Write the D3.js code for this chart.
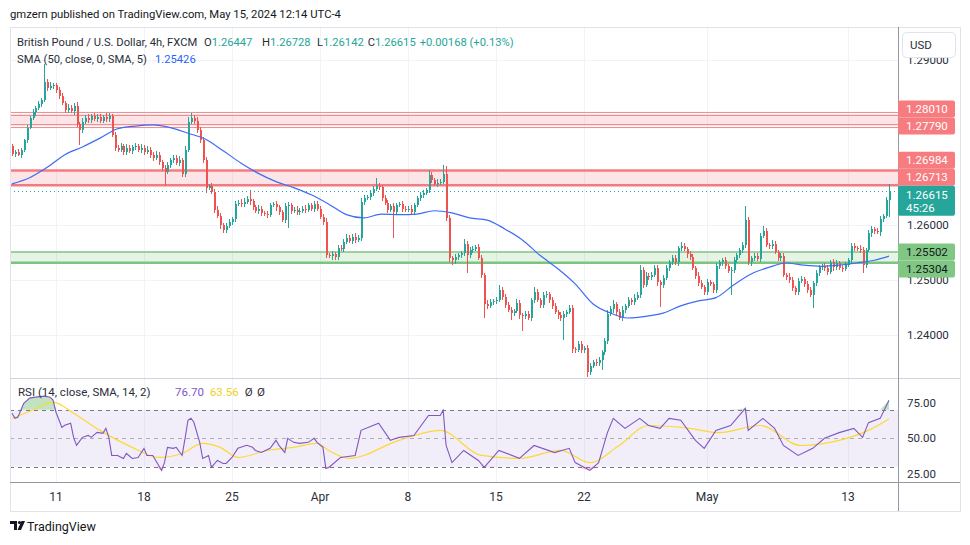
<!DOCTYPE html>
<html>
<head>
<meta charset="utf-8">
<script src="https://cdn.jsdelivr.net/npm/d3@7"></script>
<style>
  body { margin: 0; background: #fff; }
  svg { font-family: Roboto, "Liberation Sans", sans-serif; }
</style>
</head>
<body>
<svg id="chart" width="970" height="545"></svg>
<script>
// ---- data (GBPUSD 4h, FXCM) ----
const firstOpen = 1.2743;
const closes = [
  1.2728,1.2732,1.2727,1.2736,1.2753,1.2776,1.2794,1.2804,1.2812,1.2819,
  1.2826,1.2859,1.2849,1.2851,1.2853,1.2845,1.2834,1.2821,1.2808,1.2812,
  1.2806,1.2815,1.2783,1.2772,1.2787,1.2794,1.2790,1.2797,1.2792,1.2796,
  1.2789,1.2796,1.2792,1.2797,1.2763,1.2740,1.2736,1.2742,1.2732,1.2740,
  1.2734,1.2741,1.2742,1.2736,1.2740,1.2732,1.2736,1.2727,1.2721,1.2727,
  1.2714,1.2703,1.2695,1.2708,1.2717,1.2721,1.2712,1.2717,1.2691,1.2736,
  1.2787,1.2794,1.2789,1.2772,1.2753,1.2717,1.2667,1.2670,1.2659,1.2627,
  1.2616,1.2599,1.2590,1.2597,1.2605,1.2610,1.2637,1.2639,1.2637,1.2641,
  1.2646,1.2642,1.2631,1.2625,1.2629,1.2621,1.2619,1.2618,1.2635,1.2637,
  1.2631,1.2623,1.2608,1.2633,1.2635,1.2625,1.2627,1.2623,1.2625,1.2629,
  1.2627,1.2635,1.2629,1.2637,1.2629,1.2614,1.2605,1.2544,1.2543,1.2546,
  1.2541,1.2557,1.2556,1.2569,1.2576,1.2570,1.2578,1.2572,1.2576,1.2641,
  1.2648,1.2650,1.2657,1.2665,1.2670,1.2668,1.2648,1.2639,1.2627,1.2633,
  1.2623,1.2635,1.2637,1.2629,1.2627,1.2629,1.2623,1.2635,1.2648,1.2654,
  1.2657,1.2663,1.2690,1.2681,1.2674,1.2676,1.2678,1.2691,1.2612,1.2539,
  1.2535,1.2541,1.2544,1.2548,1.2565,1.2544,1.2554,1.2556,1.2559,1.2539,
  1.2508,1.2456,1.2452,1.2459,1.2461,1.2463,1.2481,1.2469,1.2454,1.2445,
  1.2439,1.2443,1.2458,1.2435,1.2433,1.2437,1.2430,1.2463,1.2477,1.2463,
  1.2454,1.2471,1.2474,1.2463,1.2452,1.2441,1.2435,1.2430,1.2437,1.2441,
  1.2448,1.2373,1.2372,1.2383,1.2372,1.2375,1.2332,1.2343,1.2350,1.2348,
  1.2354,1.2368,1.2388,1.2437,1.2446,1.2456,1.2441,1.2430,1.2445,1.2452,
  1.2463,1.2459,1.2467,1.2472,1.2518,1.2490,1.2507,1.2505,1.2508,1.2521,
  1.2495,1.2490,1.2503,1.2521,1.2531,1.2539,1.2531,1.2557,1.2561,1.2556,
  1.2546,1.2541,1.2521,1.2507,1.2494,1.2486,1.2477,1.2495,1.2492,1.2481,
  1.2524,1.2531,1.2535,1.2524,1.2516,1.2518,1.2535,1.2544,1.2554,1.2563,
  1.2608,1.2531,1.2539,1.2543,1.2537,1.2580,1.2588,1.2563,1.2561,1.2565,
  1.2550,1.2539,1.2543,1.2508,1.2505,1.2499,1.2484,1.2477,1.2497,1.2501,
  1.2492,1.2481,1.2472,1.2494,1.2512,1.2522,1.2524,1.2521,1.2514,1.2531,
  1.2522,1.2530,1.2521,1.2520,1.2526,1.2535,1.2561,1.2557,1.2556,1.2554,
  1.2526,1.2554,1.2584,1.2592,1.2588,1.2586,1.2610,1.2615,1.26447,1.26615
];
// wick lengths beyond the body, in pips
const wickUp = [
  4,3,5,4,3,5,4,6,3,5, 4,33,6,8,5,4,5,6,4,7, 5,6,8,4,6,5,7,4,6,5,
  5,4,6,5,4,6,5,7,4,6, 5,4,6,5,7,4,6,5,4,6, 5,4,6,5,4,6,5,7,4,6,
  9,8,5,6,5,6,5,4,6,5, 6,5,4,6,5,4,6,5,7,8, 6,17,5,4,6,5,4,6,5,4,
  6,5,4,7,6,5,4,6,5,4, 6,5,4,6,5,4,5,6,4,5, 4,6,5,4,6,5,4,6,5,8,
  5,4,6,5,15,5,4,6,5,4, 6,5,4,6,5,4,6,5,4,6, 5,4,9,5,4,6,5,17,15,5,
  4,6,5,4,8,5,6,5,4,6, 5,4,6,5,4,6,9,5,4,6, 5,4,6,5,4,6,5,4,10,5,
  4,6,5,4,6,5,4,6,5,4, 6,5,4,6,5,4,6,5,4,6, 5,4,6,8,5,6,4,5,6,4,
  5,4,6,5,9,5,6,4,5,6, 5,4,6,5,4,6,5,4,7,5, 4,6,5,4,6,5,4,6,5,4,
  6,5,4,6,5,4,6,5,4,6, 26,5,4,6,5,4,9,5,4,6, 5,4,6,5,4,6,5,4,6,5,
  4,6,5,4,6,5,4,6,5,4, 6,5,4,6,5,4,6,5,4,6, 5,4,6,5,4,6,5,4,6,11.3
];
const wickDown = [
  4,5,3,6,4,5,3,4,6,4, 5,4,6,5,4,6,5,4,6,5, 4,6,5,28,5,4,6,5,4,6,
  5,4,6,5,4,6,5,4,6,5, 4,6,5,4,6,5,4,6,5,4, 6,5,25,4,6,5,4,6,5,4,
  5,4,6,5,4,6,9,5,4,6, 5,8,6,5,4,6,5,4,6,5, 4,6,5,4,6,5,4,6,5,4,
  6,5,4,6,39,5,4,6,5,4, 6,5,4,6,5,4,6,5,4,7, 6,5,4,6,5,4,6,5,4,6,
  5,4,6,5,4,6,5,4,6,5, 48,5,4,6,5,4,6,5,4,6, 5,4,6,5,4,6,5,4,6,8,
  9,6,5,4,6,33,4,6,5,4, 6,26,5,4,6,5,4,6,5,4, 12,5,4,6,26,5,4,6,5,4,
  6,5,4,6,5,4,6,5,40,5, 4,6,5,4,6,5,9,5,4,6, 5,18,6,5,4,6,5,4,6,5,
  4,6,5,4,6,5,4,6,5,4, 6,40,5,4,6,5,4,6,5,4, 6,5,4,6,5,4,6,5,4,6,
  5,4,6,5,4,44,6,5,4,6, 5,4,6,5,4,6,5,4,6,5, 4,6,5,4,6,5,4,6,5,4,
  6,5,4,24,6,5,4,6,5,4, 6,5,4,6,5,4,6,5,4,6, 15,5,4,6,5,4,6,5,4,30.5
];

// SMA(50) read at bar positions
const smaBars = [0,6,12,18,24,30,36,42,48,54,60,66,72,78,84,90,96,102,108,114,
  120,126,132,138,144,150,156,162,168,174,180,186,192,198,204,210,216,222,228,234,
  240,246,252,258,264,270,276,282,288,294,299];
const smaValues = [1.2674,1.2685,1.2704,1.2727,1.2741,1.2757,1.2774,1.2779,1.2781,1.2776,
  1.2766,1.2755,1.2734,1.2712,1.2693,1.2678,1.2667,1.2654,1.2637,1.2618,
  1.2612,1.2619,1.2618,1.2619,1.2625,1.2621,1.2612,1.2608,1.2592,1.2572,
  1.2544,1.2520,1.2492,1.2456,1.2439,1.2430,1.2433,1.2439,1.2452,1.2461,
  1.2467,1.2490,1.2510,1.2522,1.2530,1.2526,1.2524,1.2526,1.2530,1.2535,1.25426];

// RSI(14) and its SMA(14), read at bar positions
const rsiBars = [0,1,2,3,4,6,8,11,13,14,15,17,18,20,21,22,24,26,27,29,31,32,33,34,36,38,39,41,43,45,
  46,48,49,51,52,53,55,56,58,59,60,61,62,64,65,67,68,70,72,73,75,77,78,80,82,83,85,88,90,91,
  93,94,96,98,101,103,104,106,107,108,112,117,119,125,129,132,137,142,146,147,148,150,154,159,161,166,173,178,185,190,
  192,197,200,203,205,209,214,217,221,224,228,233,236,240,245,250,251,256,260,263,268,273,277,282,287,290,292,296,299];
const rsiValues = [67.6,64.1,64.8,69.7,74.6,78.2,78.9,79.6,78.9,76.8,68.3,57.7,59.2,60.6,50.7,45.1,50.7,52.1,50.7,54.2,53.5,57.0,50.7,38.0,38.0,35.9,39.4,35.9,36.6,43.0,
  38.0,38.0,34.5,27.5,33.1,43.7,43.0,43.7,38.0,50.0,62.7,64.1,61.3,47.2,35.9,38.0,29.6,34.5,32.4,32.4,36.6,43.0,43.7,45.1,43.7,41.5,40.1,43.0,48.6,45.1,
  40.1,50.0,47.2,46.5,47.2,50.0,47.2,43.7,28.9,29.6,36.6,38.0,55.6,60.6,48.6,50.7,52.0,66.0,66.0,69.7,45.0,33.0,41.5,34.5,29.6,41.5,36.0,45.0,40.0,43.0,
  33.0,27.5,33.0,54.0,64.0,57.0,64.0,59.0,57.0,64.0,62.7,48.6,43.0,55.6,59.0,71.0,55.6,64.0,57.0,45.0,38.0,43.0,50.0,54.0,57.0,50.7,61.0,64.0,76.7];
const rsiMaBars = [0,7,14,21,30,41,50,58,65,71,77,87,96,104,108,115,132,146,160,173,187,197,207,217,231,241,255,269,282,292,299];
const rsiMaValues = [64.1,69.7,75.4,67.6,55.6,43.7,36.6,39.4,46.5,43.7,36.6,41.5,43.7,46.5,41.5,36.0,48.6,55.6,38.0,36.0,41.5,33.0,45.0,59.0,57.0,54.0,59.0,45.0,48.6,55.6,63.56];

// horizontal zones drawn on the chart
const redZones = [[1.28010, 1.27790], [1.26984, 1.26713]];
const greenZones = [[1.25502, 1.25304]];

const priceTicks = [1.24, 1.25, 1.26, 1.27, 1.28, 1.29];
const rsiTicks = [25, 50, 75];
const dayTicks = ["2024-03-11","2024-03-18","2024-03-25","2024-04-01","2024-04-08","2024-04-15","2024-04-22","2024-05-01","2024-05-13"];
const dayLabels = ["11","18","25","Apr","8","15","22","May","13"];

// ---- build bars ----
const bars = closes.map((c, i) => {
  const o = i ? closes[i - 1] : firstOpen;
  return { i, o, c, h: Math.max(o, c) + wickUp[i] * 1e-4, l: Math.min(o, c) - wickDown[i] * 1e-4 };
});

// bar times: FX session, 4h bars, Sun 17:00 .. Fri 13:00 (UTC-4)
const times = [];
let t = Date.UTC(2024, 2, 6, 13);
while (times.length < closes.length) {
  const d = new Date(t), wd = d.getUTCDay(), hr = d.getUTCHours();
  const open = !(wd === 6 || (wd === 0 && hr < 17) || (wd === 5 && hr > 13));
  if (open) times.push(d);
  t += 4 * 3600e3;
}

// ---- layout ----
const pLeft = 10, pRight = 898, pTop = 27, mainBottom = 378, rsiBottom = 482;
const fs = 11.5, ink = '#2a2e39';
const svg = d3.select('#chart');

const x = d3.scaleLinear().domain([0, closes.length - 1]).range([12, 889]);
const y = d3.scaleLinear().domain([1.24, 1.26]).range([334.5, 224.5]);
const yR = d3.scaleLinear().domain([25, 75]).range([474, 402.7]);

const defs = svg.append('defs');
defs.append('clipPath').attr('id', 'clipMain').append('rect')
  .attr('x', pLeft).attr('y', pTop).attr('width', pRight - pLeft).attr('height', mainBottom - pTop);
defs.append('clipPath').attr('id', 'clipRsi').append('rect')
  .attr('x', pLeft).attr('y', mainBottom).attr('width', pRight - pLeft).attr('height', rsiBottom - mainBottom);

// places text pieces at their x, or right after the previous piece (gap) if that is further right
function row(g, py, items) {
  let end = 0;
  items.forEach(([txt, color, px, gap]) => {
    const at = Math.max(px, end);
    const el = g.append('text').attr('x', at).attr('y', py).attr('fill', color).text(txt);
    end = at + el.node().getComputedTextLength() + gap;
  });
}

// header
svg.append('text').attr('x', 10).attr('y', 18).attr('font-size', 11.3).attr('fill', '#131722')
  .text('gmzern published on TradingView.com, May 15, 2024 12:14 UTC-4');

// grid
const tickIdx = dayTicks.map(ds => times.findIndex(d => d.toISOString().slice(0, 10) === ds && d.getUTCHours() === 1));
svg.append('g').selectAll('line').data(tickIdx).join('line')
  .attr('x1', i => Math.round(x(i)) + 0.5).attr('x2', i => Math.round(x(i)) + 0.5)
  .attr('y1', pTop).attr('y2', rsiBottom).attr('stroke', '#f0f3fa');
svg.append('g').selectAll('line').data(priceTicks).join('line')
  .attr('x1', pLeft).attr('x2', pRight)
  .attr('y1', p => Math.round(y(p)) + 0.5).attr('y2', p => Math.round(y(p)) + 0.5)
  .attr('stroke', '#f0f3fa');

// main pane
const gMain = svg.append('g').attr('clip-path', 'url(#clipMain)');

function zone(g, z, fill, stroke, style) {
  const y0 = y(z[0]), y1 = y(z[1]);
  g.append('rect').attr('x', pLeft).attr('width', pRight - pLeft)
    .attr('y', y0).attr('height', y1 - y0).attr('fill', fill);
  [y0, y1].forEach((yy, k) => {
    if (style === 'double') {
      [-1.5, 1.5].forEach(off => g.append('line').attr('x1', pLeft).attr('x2', pRight)
        .attr('y1', yy + off).attr('y2', yy + off).attr('stroke', stroke).attr('stroke-width', 1));
    } else {
      g.append('line').attr('x1', pLeft).attr('x2', pRight).attr('y1', yy).attr('y2', yy)
        .attr('stroke', stroke).attr('stroke-width', style === 'green' && k === 0 ? 1.5 : 2.5);
    }
  });
}
zone(gMain, redZones[0], 'rgba(242,54,69,0.13)', '#f08a8d', 'double');
zone(gMain, redZones[1], 'rgba(242,54,69,0.13)', '#f47b7f', 'thick');
zone(gMain, greenZones[0], 'rgba(76,175,80,0.14)', '#7cc47f', 'green');

// candles
const up = '#26a69a', down = '#ef5350';
const gBars = gMain.append('g').attr('shape-rendering', 'crispEdges');
gBars.selectAll('line').data(bars).join('line')
  .attr('x1', d => Math.round(x(d.i)) + 0.5).attr('x2', d => Math.round(x(d.i)) + 0.5)
  .attr('y1', d => y(d.h)).attr('y2', d => y(d.l))
  .attr('stroke', d => d.c >= d.o ? up : down);
gBars.selectAll('rect').data(bars).join('rect')
  .attr('x', d => Math.round(x(d.i))).attr('width', 2)
  .attr('y', d => y(Math.max(d.o, d.c)))
  .attr('height', d => Math.max(1, Math.abs(y(d.o) - y(d.c))))
  .attr('fill', d => d.c >= d.o ? up : down);

// SMA 50
gMain.append('path')
  .datum(smaBars.map((b, k) => [b, smaValues[k]]))
  .attr('fill', 'none').attr('stroke', '#3d6cf6').attr('stroke-width', 1.2)
  .attr('d', d3.line().x(d => x(d[0])).y(d => y(d[1])).curve(d3.curveMonotoneX));

// last price dotted line
const last = closes[closes.length - 1];
gMain.append('line').attr('x1', pLeft).attr('x2', pRight)
  .attr('y1', Math.round(y(last)) + 0.5).attr('y2', Math.round(y(last)) + 0.5)
  .attr('stroke', up).attr('stroke-dasharray', '1,3');

// legend
const leg = svg.append('g').attr('font-size', 11.2);
row(leg, 46, [
  ['British Pound / U.S. Dollar, 4h, FXCM', ink, 17, 4],
  ['O', ink, 204, 0], ['1.26447', up, 0, 4],
  ['H', ink, 262, 0], ['1.26728', up, 0, 4],
  ['L', ink, 317, 0], ['1.26142', up, 0, 4],
  ['C', ink, 367, 0], ['1.26615', up, 0, 4],
  ['+0.00168 (+0.13%)', up, 413, 0]
]);
row(leg, 63, [['SMA (50, close, 0, SMA, 5)', ink, 17, 6], ['1.25426', '#2962ff', 155, 0]]);

// ---- RSI pane ----
const gR = svg.append('g').attr('clip-path', 'url(#clipRsi)');
gR.append('rect').attr('x', pLeft).attr('width', pRight - pLeft)
  .attr('y', yR(70)).attr('height', yR(30) - yR(70)).attr('fill', 'rgba(126,87,194,0.1)');
[[70, '#787b86'], [50, 'rgba(120,123,134,0.55)'], [30, '#787b86']].forEach(([v, c]) => {
  gR.append('line').attr('x1', pLeft).attr('x2', pRight)
    .attr('y1', Math.round(yR(v)) + 0.5).attr('y2', Math.round(yR(v)) + 0.5)
    .attr('stroke', c).attr('stroke-dasharray', '4,4');
});
const rsiPts = rsiBars.map((b, k) => [b, rsiValues[k]]);
gR.append('path').datum(rsiPts).attr('fill', 'rgba(76,175,80,0.35)')
  .attr('d', d3.area().x(d => x(d[0])).y0(yR(70)).y1(d => yR(Math.max(70, d[1]))));
gR.append('path').datum(rsiPts).attr('fill', 'rgba(242,54,69,0.25)')
  .attr('d', d3.area().x(d => x(d[0])).y0(yR(30)).y1(d => yR(Math.min(30, d[1]))));
gR.append('path').datum(rsiMaBars.map((b, k) => [b, rsiMaValues[k]]))
  .attr('fill', 'none').attr('stroke', '#fdd835').attr('stroke-width', 1.2)
  .attr('d', d3.line().x(d => x(d[0])).y(d => yR(d[1])).curve(d3.curveMonotoneX));
gR.append('path').datum(rsiPts)
  .attr('fill', 'none').attr('stroke', '#7e57c2').attr('stroke-width', 1.1)
  .attr('d', d3.line().x(d => x(d[0])).y(d => yR(d[1])));

row(svg.append('g').attr('font-size', fs), 396, [
  ['RSI (14, close, SMA, 14, 2)', ink, 18, 6], ['76.70', '#7e57c2', 175, 6], ['63.56', '#f2cf1d', 208, 6],
  ['Ø', ink, 243, 4], ['Ø', ink, 257, 0]
]);

// ---- frame & axes ----
const frame = svg.append('g').attr('shape-rendering', 'crispEdges');
frame.append('rect').attr('x', 10.5).attr('y', pTop + 0.5).attr('width', 950).attr('height', 484)
  .attr('fill', 'none').attr('stroke', '#e0e3eb');
frame.append('line').attr('x1', pLeft).attr('x2', 960).attr('y1', mainBottom + 0.5).attr('y2', mainBottom + 0.5).attr('stroke', '#d1d4dc');
frame.append('line').attr('x1', pLeft).attr('x2', 960).attr('y1', rsiBottom + 0.5).attr('y2', rsiBottom + 0.5).attr('stroke', '#9598a1');
frame.append('line').attr('x1', pRight + 0.5).attr('x2', pRight + 0.5).attr('y1', pTop).attr('y2', 511).attr('stroke', '#9598a1');

// time axis
svg.append('g').attr('font-size', 12).attr('fill', ink).attr('text-anchor', 'middle')
  .selectAll('text').data(tickIdx).join('text')
  .attr('x', i => x(i)).attr('y', 501).text((i, k) => dayLabels[k]);

// level labels, pushed away from the fixed last-price label
const lastY = y(last), lh = 17;
const lastTop = lastY - 5, lastBot = lastY + 25;
const lvl = [];
redZones.forEach(z => z.forEach(v => lvl.push({ v, fill: '#f77c80', txt: '#fff' })));
greenZones.forEach(z => z.forEach(v => lvl.push({ v, fill: '#81c784', txt: '#131722' })));
const above = lvl.filter(d => y(d.v) < lastY).sort((a, b) => y(b.v) - y(a.v));
let lim = lastTop;
above.forEach(d => { d.cy = Math.min(y(d.v), lim - lh / 2); lim = d.cy - lh / 2; });
const below = lvl.filter(d => y(d.v) >= lastY).sort((a, b) => y(a.v) - y(b.v));
lim = lastBot;
below.forEach(d => { d.cy = Math.max(y(d.v), lim + lh / 2); lim = d.cy + lh / 2; });

// price axis: ticks whose label sits fully under a level label are not shown
const covered = p => lvl.some(d => Math.abs(d.cy - y(p)) < 3) ||
  lvl.some((a, i) => lvl.some((b, j) => i !== j && Math.abs(a.cy - b.cy) <= lh + 0.5 &&
    y(p) > Math.min(a.cy, b.cy) && y(p) < Math.max(a.cy, b.cy)));
const pa = svg.append('g').attr('font-size', fs).attr('fill', ink);
pa.selectAll('text.p').data(priceTicks.filter(p => !covered(p))).join('text').attr('class', 'p')
  .attr('x', 907).attr('y', p => y(p) + 4).text(p => p.toFixed(5));
pa.selectAll('text.r').data(rsiTicks).join('text').attr('class', 'r')
  .attr('x', 907).attr('y', v => yR(v) + 4).text(v => v.toFixed(2));

const lg = svg.append('g').attr('font-size', fs);
lvl.forEach(d => {
  lg.append('rect').attr('x', 898).attr('y', d.cy - lh / 2).attr('width', 57).attr('height', lh)
    .attr('rx', 2).attr('fill', d.fill);
  lg.append('text').attr('x', 906).attr('y', d.cy + 4).attr('fill', d.txt).text(d.v.toFixed(5));
});
lg.append('rect').attr('x', 898).attr('y', lastTop).attr('width', 57).attr('height', 30).attr('rx', 2).attr('fill', up);
lg.append('text').attr('x', 906).attr('y', lastY + 8).attr('fill', '#fff').text(last.toFixed(5));
lg.append('text').attr('x', 906).attr('y', lastY + 21.5).attr('fill', '#fff').text('45:26');

// currency button
svg.append('rect').attr('x', 902.5).attr('y', 32.5).attr('width', 53).attr('height', 25).attr('rx', 4)
  .attr('fill', '#fff').attr('stroke', '#e0e3eb');
svg.append('text').attr('x', 910).attr('y', 49).attr('font-size', fs).attr('fill', ink).text('USD');

// footer logo
const logo = svg.append('g').attr('fill', '#131722');
logo.append('path').attr('d', 'M10 521 h7 v9 h-3 v-6 h-4 z');
logo.append('circle').attr('cx', 19.5).attr('cy', 522.5).attr('r', 1.6);
logo.append('path').attr('d', 'M21.5 521 h3.5 l-4 9 h-3.5 z');
logo.append('text').attr('x', 27).attr('y', 531).attr('font-size', 12.5).text('TradingView');
</script>
</body>
</html>
